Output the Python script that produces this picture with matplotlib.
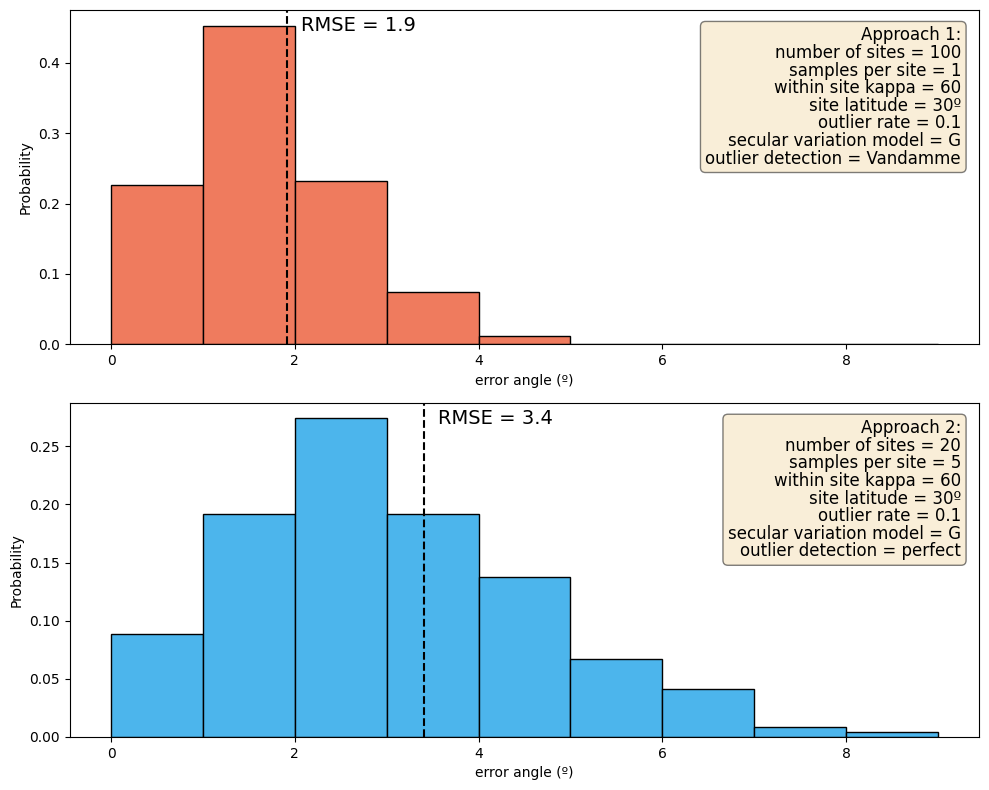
import matplotlib.pyplot as plt
import numpy as np

bin_edges = np.arange(0, 10)
probs_1 = [0.226, 0.453, 0.232, 0.074, 0.0114, 0.001, 0.0, 0.0, 0.0]
probs_2 = [0.0885, 0.1915, 0.274, 0.1915, 0.1375, 0.067, 0.041, 0.0086, 0.0043]
rmse_1 = 1.92
rmse_2 = 3.41

info_1 = ("Approach 1:\nnumber of sites = 100\nsamples per site = 1\nwithin site kappa = 60\n"
          "site latitude = 30º\noutlier rate = 0.1\nsecular variation model = G\n"
          "outlier detection = Vandamme")
info_2 = ("Approach 2:\nnumber of sites = 20\nsamples per site = 5\nwithin site kappa = 60\n"
          "site latitude = 30º\noutlier rate = 0.1\nsecular variation model = G\n"
          "outlier detection = perfect")

fig, axes = plt.subplots(2, 1, figsize=(9.89, 7.9), dpi=100)

panels = [
    (axes[0], probs_1, rmse_1, info_1, '#ef7b5e'),
    (axes[1], probs_2, rmse_2, info_2, '#4cb5ec'),
]

for ax, probs, rmse, info, colour in panels:
    centers = bin_edges[:-1] + 0.5
    ax.hist(centers, bins=bin_edges, weights=probs, color=colour, edgecolor='black')
    ax.axvline(rmse, color='black', linestyle='--')
    ax.text(rmse + 0.15, 0.952, f"RMSE = {rmse:.1f}", transform=ax.get_xaxis_transform(),
            fontsize=14, va='center', ha='left')
    ax.text(0.98, 0.95, info, transform=ax.transAxes, fontsize=12, ha='right', va='top',
            multialignment='right', linespacing=0.97,
            bbox=dict(boxstyle='round', facecolor='wheat', alpha=0.5))
    ax.set_xlabel("error angle (º)")
    ax.set_ylabel("Probability")

plt.tight_layout(pad=0.7, h_pad=1.08)
plt.savefig("out.png")
